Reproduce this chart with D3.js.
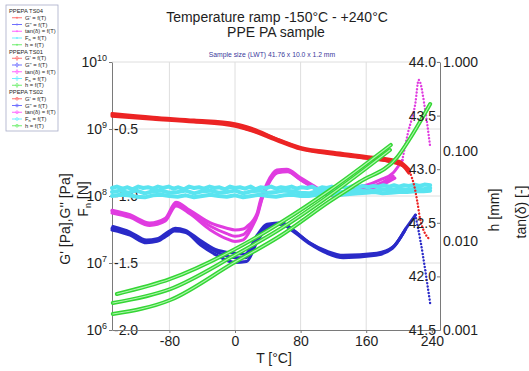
<!DOCTYPE html>
<html>
<head>
<meta charset="utf-8">
<style>
    body { margin: 0; background: #fff; }
    svg text { font-family: 'Liberation Sans', Arial, sans-serif; fill: #1e1e1e; }
    .axis path, .axis line { stroke: #7a7a7a; }
    .grid line { stroke: #dedede; }
</style>
</head>
<body>
<svg id="chart" width="529" height="371"></svg>
<script src="https://cdn.jsdelivr.net/npm/d3@7/dist/d3.min.js"></script>
<script>
// ---- data: [T in °C, value] ----
const samples = ["PPEPA TS04", "PPEPA TS01", "PPEPA TS02"];
const quantities = ["G'", "G''", "tan(δ)", "Fn", "h"];

const xTicks = [-80, 0, 80, 160, 240];
const gTicks = [1e6, 1e7, 1e8, 1e9, 1e10];
const fnTicks = [-2.0, -1.5, -1.0, -0.5];
const hTicks = [41.5, 42.0, 42.5, 43.0, 43.5, 44.0];
const tanTicks = [0.001, 0.01, 0.1, 1];

// storage modulus G' [Pa]
const gPrimeTS04 = [[-150, 1.62e9], [-104, 1.45e9], [-55, 1.32e9], [-1, 1.15e9], [18, 9.7e8], [39, 8.1e8],
    [58, 6.5e8], [79, 5.2e8], [100, 4.6e8], [116, 4.4e8], [152, 3.8e8], [189, 3.25e8], [205, 2.8e8],
    [213, 2.3e8], [219, 1.35e8], [222, 8.7e7], [226, 4.4e7], [238, 2.2e7]];
const gPrimeTS01 = [[-150, 1.7e9], [-100, 1.5e9], [-50, 1.36e9], [0, 1.2e9], [20, 1.03e9], [50, 7.2e8],
    [80, 5.3e8], [120, 4.5e8], [160, 3.9e8], [200, 3.3e8], [212, 2.5e8]];
const gPrimeTS02 = [[-150, 1.55e9], [-100, 1.4e9], [-50, 1.27e9], [0, 1.1e9], [20, 9.4e8], [50, 6.8e8],
    [80, 5.0e8], [120, 4.2e8], [160, 3.65e8], [200, 3.1e8], [212, 2.2e8]];

// loss modulus G'' [Pa]
const gDoubleTS04 = [[-149, 3.5e7], [-128, 2.9e7], [-108, 2.2e7], [-95, 2.3e7], [-82, 2.9e7], [-73, 3.3e7],
    [-61, 3.1e7], [-43, 2.2e7], [-24, 1.6e7], [0, 1.4e7], [12, 1.35e7], [27, 2.6e7], [39, 3.8e7], [57, 4.0e7],
    [71, 3.1e7], [91, 2.0e7], [112, 1.5e7], [132, 1.3e7], [173, 1.4e7], [193, 1.75e7], [210, 3.5e7],
    [220, 5.2e7], [226, 2.2e7], [238, 2.5e6]];
const gDoubleTS01 = [[-150, 3.3e7], [-128, 2.75e7], [-108, 2.1e7], [-95, 2.2e7], [-82, 2.75e7], [-74, 3.15e7],
    [-60, 2.95e7], [-42, 2.0e7], [-22, 1.45e7], [0, 1.2e7], [13, 1.2e7], [27, 2.4e7], [40, 3.6e7], [57, 3.85e7],
    [72, 3.0e7], [92, 1.95e7], [112, 1.45e7], [132, 1.25e7], [172, 1.35e7], [192, 1.7e7], [208, 3.2e7]];
const gDoubleTS02 = [[-150, 3.1e7], [-128, 2.6e7], [-108, 2.0e7], [-95, 2.1e7], [-82, 2.6e7], [-74, 3.0e7],
    [-60, 2.85e7], [-42, 1.85e7], [-22, 1.3e7], [0, 1.02e7], [14, 1.05e7], [28, 2.2e7], [41, 3.5e7], [57, 3.8e7],
    [72, 2.9e7], [92, 1.9e7], [112, 1.4e7], [132, 1.2e7], [172, 1.3e7], [192, 1.65e7], [206, 2.9e7]];

// tan(delta) [-]
const tanTS04 = [[-150, 0.0219], [-128, 0.0195], [-104, 0.0158], [-85, 0.0178], [-72, 0.0269], [-55, 0.0219],
    [-30, 0.0158], [-10, 0.0138], [0, 0.0132], [10, 0.0135], [15, 0.0145], [27, 0.0204], [31, 0.0282],
    [34, 0.0339], [39, 0.0437], [51, 0.0617], [63, 0.0631], [79, 0.0513], [95, 0.0417], [104, 0.0372],
    [120, 0.0339], [135, 0.0355], [144, 0.0389], [160, 0.0417], [177, 0.0479], [193, 0.0575], [204, 0.0794],
    [211, 0.162], [220, 0.347], [224, 0.631], [232, 0.288], [238, 0.112]];
const tanTS01 = [[-150, 0.0214], [-128, 0.0191], [-104, 0.0155], [-85, 0.0174], [-72, 0.0257], [-55, 0.0209],
    [-30, 0.0145], [-10, 0.0120], [0, 0.0112], [10, 0.0117], [18, 0.0141], [27, 0.0195], [32, 0.0282],
    [39, 0.0417], [51, 0.0589], [63, 0.0603], [79, 0.0490], [95, 0.0398], [104, 0.0355], [120, 0.0324],
    [144, 0.0363], [177, 0.0437], [193, 0.0525]];
const tanTS02 = [[-150, 0.0204], [-128, 0.0182], [-104, 0.0148], [-85, 0.0166], [-72, 0.0245], [-55, 0.0200],
    [-30, 0.0132], [-10, 0.0105], [0, 0.0098], [10, 0.0102], [20, 0.0138], [28, 0.0200], [33, 0.0295],
    [40, 0.0417], [52, 0.0575], [64, 0.0589], [80, 0.0479], [96, 0.0389], [105, 0.0347], [121, 0.0316],
    [145, 0.0355], [178, 0.0417], [195, 0.0501]];

// normal force Fn [N]
const fnTS04 = [[-150, -0.94], [-144, -0.93], [-137, -0.945], [-131, -0.935], [-125, -0.95], [-118, -0.93],
    [-112, -0.94], [-106, -0.935], [-100, -0.945], [-94, -0.93], [-88, -0.94], [-81, -0.93], [-75, -0.945],
    [-69, -0.935], [-62, -0.95], [-56, -0.93], [-50, -0.94], [-44, -0.935], [-38, -0.945], [-31, -0.93],
    [-25, -0.94], [-19, -0.935], [-12, -0.95], [-6, -0.93], [0, -0.94], [6, -0.935], [12, -0.945], [19, -0.93],
    [25, -0.95], [31, -0.935], [38, -0.94], [44, -0.93], [50, -0.945], [56, -0.935], [62, -0.94], [69, -0.93],
    [75, -0.945], [81, -0.935], [88, -0.94], [94, -0.93], [100, -0.95], [106, -0.935], [112, -0.94],
    [118, -0.93], [125, -0.945], [131, -0.93], [138, -0.94], [144, -0.925], [150, -0.935], [156, -0.925],
    [162, -0.935], [169, -0.925], [175, -0.93], [181, -0.92], [188, -0.93], [194, -0.92], [200, -0.93],
    [206, -0.92], [212, -0.925], [219, -0.915], [225, -0.925], [231, -0.915], [238, -0.92]];
const fnTS01 = [[-150, -0.97], [-140, -0.96], [-130, -0.975], [-120, -0.96], [-110, -0.98], [-100, -0.965],
    [-90, -0.96], [-80, -0.975], [-70, -0.97], [-60, -0.96], [-50, -0.98], [-40, -0.965], [-30, -0.96],
    [-20, -0.975], [-10, -0.97], [0, -0.96], [10, -0.98], [20, -0.965], [30, -0.96], [40, -0.975], [50, -0.97],
    [60, -0.96], [70, -0.965], [80, -0.975], [90, -0.98], [100, -0.965], [110, -0.96], [120, -0.975],
    [130, -0.97], [140, -0.96], [150, -0.955], [160, -0.965], [170, -0.96], [180, -0.95], [190, -0.955],
    [200, -0.945], [210, -0.955], [220, -0.945], [230, -0.95], [238, -0.94]];
const fnTS02 = [[-150, -1.00], [-140, -0.99], [-130, -0.995], [-120, -1.005], [-110, -1.01], [-100, -0.995],
    [-90, -0.99], [-80, -1.00], [-70, -1.005], [-60, -0.995], [-50, -1.01], [-40, -1.00], [-30, -0.99],
    [-20, -1.00], [-10, -1.005], [0, -0.995], [10, -1.01], [20, -1.00], [30, -0.99], [40, -1.00], [50, -1.005],
    [60, -0.995], [70, -0.99], [80, -1.00], [90, -1.00], [100, -0.99], [110, -0.98], [120, -0.99],
    [130, -0.99], [140, -0.985], [150, -0.98], [160, -0.975], [170, -0.97], [180, -0.98], [190, -0.975],
    [200, -0.97], [210, -0.97], [220, -0.965], [230, -0.965], [238, -0.96]];

// gap h [mm]
const hTS04 = [[-144, 41.836], [-79, 41.976], [-2, 42.246], [55, 42.498], [116, 42.806], [190, 43.226]];
const hTS01 = [[-149, 41.752], [-79, 41.882], [-2, 42.190], [55, 42.442], [116, 42.759], [189, 43.179]];
const hTS02 = [[-149, 41.649], [-79, 41.780], [-2, 42.125], [55, 42.377], [116, 42.703], [152, 42.881],
    [198, 43.114], [213, 43.282], [238, 43.608]];

// ---- layout ----
const plot = { left: 112, right: 440, top: 62, bottom: 330 };
const colors = { gp: '#ec2424', gpp: '#2a2ac8', tan: '#e03ce0', fn: '#5ae4f0', h: '#34d634' };
const legendColors = ['#ff7070', '#7070ff', '#ff66ff', '#70eeff', '#70ee70'];

const svg = d3.select('#chart');

const x = d3.scaleLinear().domain([-150, 250]).range([plot.left, plot.right]);
const yG = d3.scaleLog().domain([1e6, 1e10]).range([plot.bottom, plot.top]);
const yFn = d3.scaleLinear().domain([-2, 0]).range([plot.bottom, plot.top]);
const yH = d3.scaleLinear().domain([41.5, 44]).range([plot.bottom, plot.top]);
const yTan = d3.scaleLog().domain([0.001, 1]).range([plot.bottom, plot.top]);

// grid
const grid = svg.append('g').attr('class', 'grid');
grid.selectAll('.h').data(gTicks.slice(1)).join('line')
    .attr('x1', plot.left).attr('x2', plot.right)
    .attr('y1', d => yG(d)).attr('y2', d => yG(d));
grid.selectAll('.v').data(xTicks.filter(d => d < 200)).join('line')
    .attr('x1', d => x(d)).attr('x2', d => x(d))
    .attr('y1', plot.top).attr('y2', plot.bottom);

// titles
svg.append('text').attr('x', 277).attr('y', 22).attr('text-anchor', 'middle').attr('font-size', 14)
    .text('Temperature ramp -150°C - +240°C');
svg.append('text').attr('x', 276).attr('y', 37).attr('text-anchor', 'middle').attr('font-size', 14)
    .text('PPE PA sample');
svg.append('text').attr('x', 272).attr('y', 57).attr('text-anchor', 'middle').attr('font-size', 6.8)
    .style('fill', '#3a3a9c').text('Sample size (LWT) 41.76 x 10.0 x 1.2 mm');

// left axes
const gAxis = svg.append('g').attr('class', 'axis').attr('transform', `translate(${plot.left},0)`)
    .call(d3.axisLeft(yG).tickValues(gTicks).tickSize(3).tickSizeOuter(0).tickPadding(2).tickFormat(''));
gAxis.selectAll('.tick text').attr('font-size', 14).each(function (d) {
    const t = d3.select(this);
    t.append('tspan').text('10');
    t.append('tspan').attr('dy', -6).attr('font-size', 9).text(Math.round(Math.log10(d)));
});

const fnAxis = svg.append('g').attr('class', 'axis').attr('transform', `translate(${plot.left},0)`)
    .call(d3.axisRight(yFn).tickValues(fnTicks).tickSize(0).tickPadding(2).tickFormat(d => d.toFixed(1)));
fnAxis.select('.domain').remove();
fnAxis.selectAll('text').attr('font-size', 14);

// x axis
const xAxis = svg.append('g').attr('class', 'axis').attr('transform', `translate(0,${plot.bottom})`)
    .call(d3.axisBottom(x).tickValues(xTicks).tickSize(3).tickSizeOuter(0).tickFormat(d => d));
xAxis.selectAll('text').attr('font-size', 14);

// series
const plotG = svg.append('g');

function drawSeries(data, yScale, color, width, dotFrom, curve = d3.curveMonotoneX) {
    const line = d3.line().x(d => x(d[0])).y(d => yScale(d[1])).curve(curve);
    let solid = data, tail = null;
    if (dotFrom != null) {
        const i = data.findIndex(d => d[0] > dotFrom);
        solid = data.slice(0, i);
        tail = data.slice(i - 1);
    }
    plotG.append('path').datum(solid).attr('d', line)
        .attr('fill', 'none').attr('stroke', color).attr('stroke-width', width)
        .attr('stroke-linejoin', 'round').attr('stroke-linecap', 'round');
    if (tail) {
        plotG.append('path').datum(tail).attr('d', line)
            .attr('fill', 'none').attr('stroke', color).attr('stroke-width', 2.4)
            .attr('stroke-dasharray', '0.1,3.2').attr('stroke-linecap', 'round');
    }
}

drawSeries(tanTS02, yTan, colors.tan, 3);
drawSeries(tanTS01, yTan, colors.tan, 3);
drawSeries(tanTS04, yTan, colors.tan, 3, 204);

drawSeries(fnTS02, yFn, colors.fn, 4, null, d3.curveLinear);
drawSeries(fnTS01, yFn, colors.fn, 4, null, d3.curveLinear);
drawSeries(fnTS04, yFn, colors.fn, 4, null, d3.curveLinear);

drawSeries(gPrimeTS02, yG, colors.gp, 3);
drawSeries(gPrimeTS01, yG, colors.gp, 3);
drawSeries(gPrimeTS04, yG, colors.gp, 3, 216);

drawSeries(gDoubleTS02, yG, colors.gpp, 3);
drawSeries(gDoubleTS01, yG, colors.gpp, 3);
drawSeries(gDoubleTS04, yG, colors.gpp, 3, 220);

[hTS04, hTS01, hTS02].forEach(s => {
    drawSeries(s, yH, colors.h, 4);
    drawSeries(s, yH, '#aef5ae', 1.1);
});

// right axes (drawn over data)
const hAxis = svg.append('g').attr('class', 'axis').attr('transform', `translate(${plot.right},0)`)
    .call(d3.axisLeft(yH).tickValues(hTicks).tickSize(3).tickSizeOuter(0).tickPadding(1).tickFormat(d => d.toFixed(1)));
hAxis.selectAll('text').attr('font-size', 14);

const tanAxis = svg.append('g').attr('class', 'axis').attr('transform', `translate(${plot.right},0)`)
    .call(d3.axisRight(yTan).tickValues(tanTicks).tickSize(0).tickPadding(3).tickFormat(d => d.toFixed(3)));
tanAxis.select('.domain').remove();
tanAxis.selectAll('text').attr('font-size', 14);

// axis titles
svg.append('text').attr('transform', 'translate(70,219) rotate(-90)').attr('text-anchor', 'middle')
    .attr('font-size', 14).text("G'  [Pa],G''  [Pa]");
const fnTitle = svg.append('text').attr('transform', 'translate(88,199) rotate(-90)').attr('text-anchor', 'middle')
    .attr('font-size', 14);
fnTitle.append('tspan').text('F');
fnTitle.append('tspan').attr('font-size', 9).attr('dy', 3).text('n');
fnTitle.append('tspan').attr('dy', -3).text('  [N]');
svg.append('text').attr('transform', 'translate(499,210) rotate(-90)').attr('text-anchor', 'middle')
    .attr('font-size', 14).text('h  [mm]');
svg.append('text').attr('transform', 'translate(526,212) rotate(-90)').attr('text-anchor', 'middle')
    .attr('font-size', 14).text('tan(δ)  [-]');
svg.append('text').attr('x', 274).attr('y', 363).attr('text-anchor', 'middle')
    .attr('font-size', 14).text('T  [°C]');

// legend
const legend = svg.append('g');
const rowH = 6.75, legTop = 11;
legend.append('rect').attr('x', 6).attr('y', 5).attr('width', 52).attr('height', 126)
    .attr('fill', '#fff').attr('stroke', '#a8acc8').attr('stroke-width', 0.8);
samples.forEach((s, si) => {
    const base = si * (quantities.length + 1);
    legend.append('text').attr('x', 9).attr('y', legTop + base * rowH).attr('dy', '0.35em')
        .attr('font-size', 5.8).text(s);
    quantities.forEach((q, qi) => {
        const yy = legTop + (base + qi + 1) * rowH;
        legend.append('line').attr('x1', 12).attr('x2', 22).attr('y1', yy).attr('y2', yy)
            .attr('stroke', legendColors[qi]).attr('stroke-width', 1);
        if (si === 0) {
            legend.append('circle').attr('cx', 17).attr('cy', yy).attr('r', 0.9).attr('fill', legendColors[qi]);
        } else {
            legend.append('path').attr('d', d3.symbol(si === 1 ? d3.symbolDiamond : d3.symbolCircle, 6)())
                .attr('transform', `translate(17,${yy})`).attr('fill', 'none')
                .attr('stroke', legendColors[qi]).attr('stroke-width', 0.7);
        }
        const t = legend.append('text').attr('x', 25).attr('y', yy).attr('dy', '0.35em').attr('font-size', 5.8);
        if (q === 'Fn') {
            t.append('tspan').text('F');
            t.append('tspan').attr('font-size', 4).attr('dy', 1.2).text('n');
            t.append('tspan').attr('dy', -1.2).text(' = f(T)');
        } else {
            t.text(q + ' = f(T)');
        }
    });
});
</script>
</body>
</html>
